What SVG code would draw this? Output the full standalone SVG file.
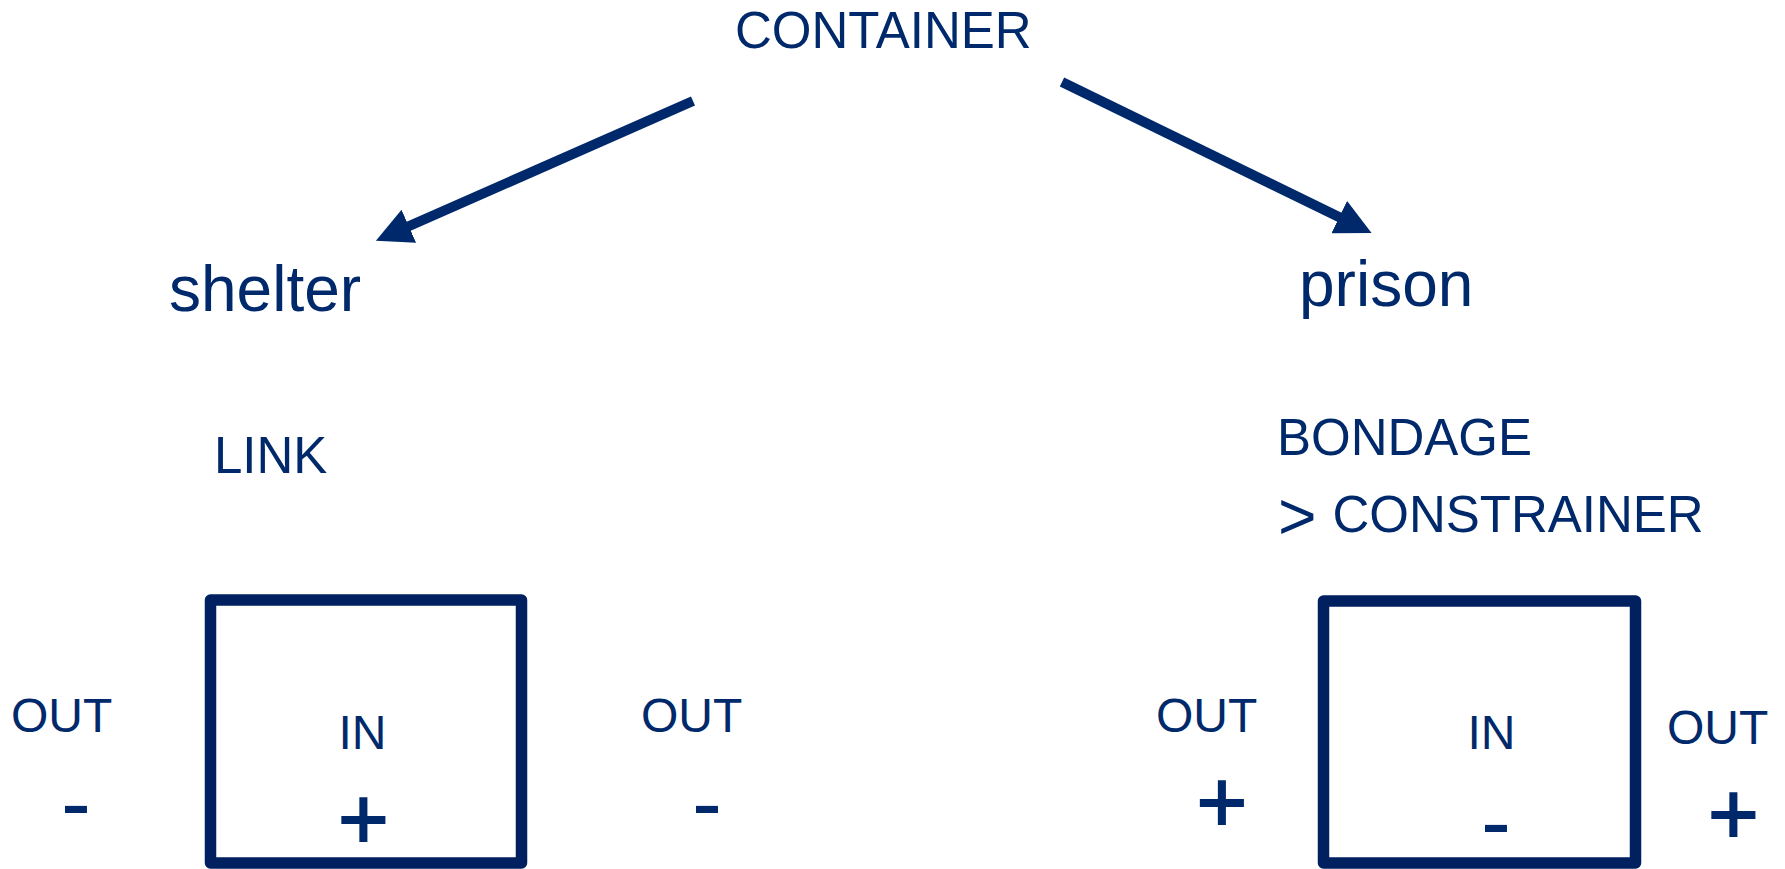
<svg xmlns="http://www.w3.org/2000/svg" width="1785" height="869" viewBox="0 0 1785 869">
<style>
  text { font-family: "Liberation Sans", Arial, sans-serif; fill: #00296B; }
  .lbl { font-size: 51px; }
  .gt { font-size: 66px; }
  .big { font-size: 64px; }
  .out { font-size: 48px; }
  .sign { font-size: 90px; }
  .plus { font-size: 87px; stroke: #00296B; stroke-width: 1.8; }
  .box { fill: none; stroke: #002060; stroke-width: 11.5; stroke-linejoin: round; }
  .conn { stroke: #00296B; stroke-width: 10; fill: none; }
</style>
<defs>
  <marker id="head" markerUnits="userSpaceOnUse" markerWidth="36" markerHeight="36" refX="2" refY="18" orient="auto" viewBox="0 0 36 36">
    <path d="M0,0 L36,18 L0,36 Z" fill="#00296B"/>
  </marker>
</defs>
<rect width="1785" height="869" fill="#ffffff"/>
<g id="connectors">
  <line class="conn" x1="693" y1="101" x2="407" y2="227" marker-end="url(#head)"/>
  <line class="conn" x1="1062" y1="82" x2="1341" y2="218" marker-end="url(#head)"/>
</g>
<g id="container"><text class="lbl" x="735" y="48">CONTAINER</text></g>
<g id="shelter"><text class="big" x="169" y="311">shelter</text></g>
<g id="prison"><text class="big" x="1299" y="306">prison</text></g>
<g id="link"><text class="lbl" x="214" y="473">LINK</text></g>
<g id="bondage">
  <text class="lbl" x="1277" y="455">BONDAGE</text>
  <text class="gt" x="1278" y="539">&gt;</text>
  <text class="lbl" x="1332.5" y="532">CONSTRAINER</text>
</g>
<g id="link-box">
  <rect class="box" x="210.5" y="600" width="311" height="263"/>
  <text class="out" x="362.5" y="749" text-anchor="middle">IN</text>
  <text class="sign plus" x="363.5" y="849" text-anchor="middle">+</text>
</g>
<g id="link-out-left">
  <text class="out" x="11" y="732">OUT</text>
  <text class="sign" x="61" y="834">-</text>
</g>
<g id="link-out-right">
  <text class="out" x="641" y="732">OUT</text>
  <text class="sign" x="692" y="834">-</text>
</g>
<g id="bondage-box">
  <rect class="box" x="1323.5" y="601" width="312" height="262"/>
  <text class="out" x="1491.5" y="749" text-anchor="middle">IN</text>
  <text class="sign" x="1481" y="853">-</text>
</g>
<g id="bondage-out-left">
  <text class="out" x="1156" y="732">OUT</text>
  <text class="sign plus" x="1222" y="832" text-anchor="middle">+</text>
</g>
<g id="bondage-out-right">
  <text class="out" x="1667" y="744">OUT</text>
  <text class="sign plus" x="1733.5" y="844" text-anchor="middle">+</text>
</g>
</svg>
